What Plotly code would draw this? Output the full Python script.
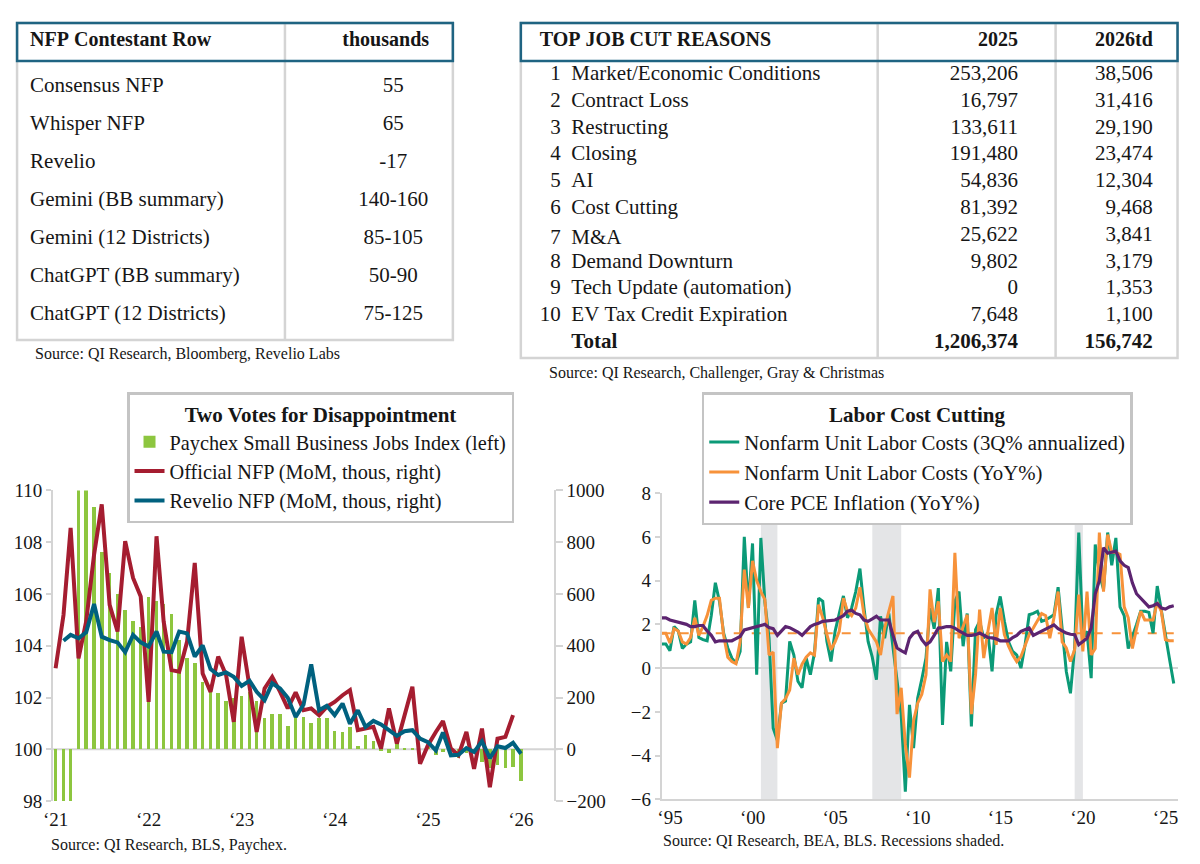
import plotly.graph_objects as go

# Page geometry: browser keeps its default 8px body margin -> figure is 1184x848.
OFF = 8
FW, FH = 1184, 848
# measured placement of paper coordinates on the photographed page (screen = A + S * page)
AX, SX = 9.0, 0.992
AY, SY = 9.9, 0.973
SERIF = "Liberation Serif"
INK = "#161616"
GRID = "#d4d4d4"
HDR = "#1f6482"
CLEAR = "rgba(0,0,0,0)"
NB = "\u00a0"


def X(px):
    return ((px - AX) / SX - OFF) / FW


def Y(py):
    return 1 - ((py - AY) / SY - OFF) / FH


# ---------------- Table 1: NFP contestant row ----------------
nfp_header = ["NFP Contestant Row", "thousands"]
nfp_labels = ["Consensus NFP", "Whisper NFP", "Revelio", "Gemini (BB summary)",
              "Gemini (12 Districts)", "ChatGPT (BB summary)", "ChatGPT (12 Districts)"]
nfp_values = ["55", "65", "-17", "140-160", "85-105", "50-90", "75-125"]

# ---------------- Table 2: top job cut reasons ----------------
cut_header = ["TOP JOB CUT REASONS", "2025", "2026td"]
cut_reasons = ["Market/Economic Conditions", "Contract Loss", "Restructing", "Closing", "AI",
               "Cost Cutting", "M&A", "Demand Downturn", "Tech Update (automation)",
               "EV Tax Credit Expiration"]
cut_2025 = [253206, 16797, 133611, 191480, 54836, 81392, 25622, 9802, 0, 7648]
cut_2026td = [38506, 31416, 29190, 23474, 12304, 9468, 3841, 3179, 1353, 1100]
total_2025 = 1206374
total_2026td = 156742

# ---------------- Chart 3: monthly, Jan-21 .. Jan-26 ----------------
paychex_index = [97.9, 97.9, 97.9, 110.2, 110.2, 109.35, 107.6, 106.8, 106.0, 105.35, 104.95, 104.7,
                 105.85, 105.7, 105.6, 105.2, 104.2, 103.5, 103.3, 102.6, 102.3, 102.15, 101.85, 101.95,
                 102.05, 102.2, 101.85, 101.2, 101.35, 101.35, 100.9, 101.25, 101.25, 101.0, 101.2, 101.2,
                 100.7, 100.65, 100.85, 100.1, 100.55, 100.3, 99.92, 99.85, 100.28, 99.96, 99.96, 100.0,
                 100.05, 99.75, 99.9, 99.95, 99.66, 99.83, 99.85, 99.5, 99.25, 99.38, 99.25, 99.3, 98.76]
official_nfp = [313, 519, 855, 351, 494, 752, 946, 558, 455, 804, 662, 590,
                183, 823, 494, 306, 300, 416, 720, 293, 222, 358, 287, 106,
                435, 235, 67, 235, 280, 222, 158, 220, 151, 158, 132, 164,
                183, 209, 229, 74, 80, 87, 3, 158, 22, 132, 242, -56,
                16, 67, 109, 3, -23, 67, -75, 80, -146, 41, 48, 132]
revelio_nfp = [419, 442, 429, 452, 561, 435, 422, 413, 375, 442, 413,
               397, 455, 377, 375, 455, 448, 358, 401, 310, 287, 297, 280,
               245, 265, 222, 190, 255, 235, 199, 125, 173, 328, 151, 168,
               132, 177, 99, 151, 87, 110, 96, 74, 52, 70, 74, 41,
               28, -4, 65, -23, -21, 5, -10, 31, -34, 12, 5, 25, -17]
month_labels = [f"{2021 + i // 12}-{i % 12 + 1:02d}-01" for i in range(len(paychex_index))]
year_ticks_l = ["2021-01-01", "2022-01-01", "2023-01-01", "2024-01-01", "2025-01-01", "2026-01-01"]
year_text_l = ["\u201821", "\u201822", "\u201823", "\u201824", "\u201825", "\u201826"]

# ---------------- Chart 4: quarterly, 1994Q4 .. 2025Q4 ----------------
ulc_3q_ann = [1.1,
              1.1, 0.8, 1.9, 1.7, 0.9, 1.1, 1.2, 3.1, 1.4, 1.3, 1.25, 2.4,
              3.9, 3.05, 1.6, 0.92, 0.46, 0.23, 0.76, 6.0, 2.75, 5.7, -0.3, 5.95,
              3.0, 1.37, -2.75, -3.3, -1.6, -1.5, 1.22, 0.6, -0.6, -0.9, 0.46, -0.3,
              0.7, 3.2, 3.05, 1.22, 0.3, 1.68, 2.5, 3.3, 2.3, 2.75, 3.5, 4.55,
              2.75, 1.22, 0.5, -0.53, 2.37, 1.37, 2.5, 1.0, -0.5, -2.1, -5.65, -1.68, -3.66,
              -1.37, -0.5, 0.46, 2.75, 1.8, 3.66, -2.6, 1.2, -0.15, 3.05, 3.5, 1.0,
              2.5, -2.67, 1.76, 2.14, 1.37, 1.6, -0.15, 2.44, 3.28, 2.14, 1.2, 0.76,
              0.6, 0.0, 1.07, 2.44, 2.5, 2.6, 2.14, 2.2, 2.3, 2.44, 3.7, 1.68,
              -0.15, -1.15, 0.92, 6.2, 1.37, 1.68, -0.46, 5.65, 4.3, 3.6, 6.2, 4.7,
              5.95, 2.8, 2.4, 0.9, 1.5, 2.0, 2.6, 2.6, 2.55, 1.6, 3.75, 2.6,
              1.5, 0.4, -0.7]
ulc_yoy = [1.6,
           1.6, 1.15, 1.8, 1.7, 1.2, 1.1, 1.4, 2.3, 1.5, 1.9, 2.4, 3.1,
           3.2, 3.2, 1.5, 0.5, 0.3, 0.2, 1.2, 4.5, 2.75, 4.9, 4.0, 3.5,
           3.13, 0.6, 0.73, -3.66, -1.6, -1.4, -1.0, 0.46, -0.3, 0.18, 0.5, 0.7,
           0.6, 2.9, 2.3, 1.53, 0.84, 1.2, 1.68, 3.2, 2.6, 2.4, 2.75, 3.7,
           2.44, 1.8, 1.5, 1.2, 0.6, 1.83, 2.6, 3.3, -2.1, -0.9, -3.5, -5.0, -2.4,
           -1.6, -1.2, -0.3, 3.6, 2.1, 3.05, 0.3, 0.6, 0.3, 5.27, 1.37, 1.9,
           2.44, -2.1, -0.3, 2.67, 0.46, 1.68, 2.75, 1.07, 2.75, 1.53, 1.0, 0.6,
           0.3, 0.53, 1.0, 1.53, 1.83, 2.2, 2.5, 2.4, 1.37, 2.3, 3.5, 1.2,
           0.92, 0.3, 0.84, 3.36, 0.76, 3.5, 0.6, 0.9, 6.2, 3.5, 6.1, 5.3,
           5.3, 5.2, 2.8, 2.3, 0.9, 1.8, 2.6, 2.2, 2.2, 2.2, 3.0, 2.6,
           1.3, 1.25, 1.25]
core_pce_yoy = [2.3,
                2.3, 2.2, 2.15, 2.1, 2.05, 2.0, 1.9, 1.9, 1.95, 1.95, 1.7, 1.5,
                1.2, 1.25, 1.25, 1.25, 1.25, 1.35, 1.45, 1.75, 1.8, 1.85, 1.9, 1.95,
                2.0, 1.85, 1.8, 1.5, 1.7, 1.9, 1.85, 1.75,
                1.65, 1.5, 1.7, 1.9, 2.0, 2.05, 2.14, 2.15, 2.17, 2.2, 2.3, 2.4,
                2.6, 2.65, 2.5, 2.44, 2.2, 2.14, 2.25, 2.37, 2.2, 2.2, 2.2, 1.5, 0.92,
                0.8, 0.7, 1.37, 1.6, 1.68, 1.3, 1.07, 1.2, 1.5, 1.83, 1.85, 1.9,
                1.9, 1.83, 1.7, 1.6, 1.5, 1.5, 1.53, 1.6, 1.5, 1.4, 1.38, 1.34,
                1.25, 1.25, 1.25, 1.4, 1.5, 1.68, 1.75, 1.83, 1.5, 1.6, 1.68, 1.8,
                1.9, 1.98, 1.8, 1.68, 1.6, 1.55, 1.53, 1.07, 1.2, 1.37,
                1.83, 3.4, 4.0, 5.5, 5.25, 5.3, 5.35, 4.9, 4.7, 4.6, 3.9, 3.4,
                3.2, 3.0, 2.8, 2.85, 2.95, 2.75, 2.7, 2.8, 2.85]
ulc_yoy_avg = 1.6
quarter_ends = ["03-31", "06-30", "09-30", "12-31"]
quarter_dates = [f"{1994 + (i + 3) // 4}-{quarter_ends[(i + 3) % 4]}" for i in range(len(ulc_3q_ann))]
recessions = [("2001-01-01", "2002-01-01"), ("2007-10-01", "2009-07-01"), ("2020-01-01", "2020-07-01")]
year_ticks_r = [f"{y}-07-01" for y in range(1995, 2026, 5)]
year_text_r = ["\u201895", "\u201800", "\u201805", "\u201810", "\u201815", "\u201820", "\u201825"]

BAR_GREEN = "#8dc63f"
NFP_RED = "#a51d30"
REV_TEAL = "#00617f"
ULC3_C = "#0b9a77"
ULCY_C = "#f7923a"
PCE_C = "#5c2470"
REC_C = "#e4e5e7"


def nb(s):
    return s.replace(" ", NB)


def tfont(size, bold=False):
    return dict(family=SERIF, size=size, color=INK, weight="bold" if bold else "normal")


fig = go.Figure()

# ---- Table 1 ----
T1_HEAD = 45.3
fig.add_trace(go.Table(
    domain=dict(x=[X(21), X(452)], y=[Y(339), Y(22.7)]),
    columnwidth=[313, 118],
    header=dict(values=[nb(nfp_header[0]), nfp_header[1] + NB * 3], align=["left", "center"],
                height=T1_HEAD, fill_color=CLEAR, line_color=CLEAR, font=tfont(20, True)),
    cells=dict(values=[nfp_labels, nfp_values], align=["left", "center"], height=38,
               fill_color=CLEAR, line_color=CLEAR, font=tfont(21)),
))

# ---- Table 2: header + rows 1-6 / row 7 / rows 8-10 / total ----
first_col = []
for i, reason in enumerate(cut_reasons):
    rank = str(i + 1)
    first_col.append(NB * (2 * (2 - len(rank))) + rank + NB * 2 + nb(reason))
v2025 = [f"{v:,}" for v in cut_2025]
v2026 = [f"{v:,}" for v in cut_2026td]
T2_X = [X(531), X(1177)]
T2_W = [346, 149, 135, 16]
T2_ALIGN = ["left", "right", "right", "left"]
ROW = 26.67
T2_TOP = 22.7
HEAD = 33.6
BODY = T2_TOP + HEAD


def row_top(k):
    return BODY + k * ROW


fig.add_trace(go.Table(
    domain=dict(x=T2_X, y=[Y(row_top(6) + 3), Y(T2_TOP)]),
    columnwidth=T2_W,
    header=dict(values=[nb(h) for h in cut_header] + [""], align=T2_ALIGN, height=HEAD,
                fill_color=CLEAR, line_color=CLEAR, font=tfont(20, True)),
    cells=dict(values=[first_col[:6], v2025[:6], v2026[:6], [""] * 6], align=T2_ALIGN,
               height=ROW, fill_color=CLEAR, line_color=CLEAR, font=tfont(21)),
))


def body_block(rows, top, bottom, col1, c2, c3, bold=False):
    fig.add_trace(go.Table(
        domain=dict(x=T2_X, y=[Y(bottom), Y(top)]),
        columnwidth=T2_W,
        header=dict(values=["", "", "", ""], height=1, fill_color=CLEAR, line_color=CLEAR),
        cells=dict(values=[col1, c2, c3, [""] * rows], align=T2_ALIGN, height=ROW,
                   fill_color=CLEAR, line_color=CLEAR, font=tfont(21, bold)),
    ))


body_block(1, row_top(6) - 1, row_top(7) + 18, first_col[6:7], v2025[6:7], v2026[6:7])
body_block(3, row_top(7) - 1, row_top(10) + 3, first_col[7:], v2025[7:], v2026[7:])
body_block(1, row_top(10) - 1, 357, [NB * 6 + "Total"], [f"{total_2025:,}"], [f"{total_2026td:,}"],
           bold=True)

# ---- Chart 3 ----
fig.add_trace(go.Bar(
    x=month_labels, y=[v - 100 for v in paychex_index], base=100,
    width=14.3 * 86400000, marker=dict(color=BAR_GREEN, line=dict(width=0)),
    name="Paychex Small Business Jobs Index (left)", xaxis="x", yaxis="y", legend="legend"))
fig.add_trace(go.Scatter(
    x=month_labels[:len(official_nfp)], y=official_nfp, mode="lines",
    line=dict(color=NFP_RED, width=4), name="Official NFP (MoM, thous, right)",
    xaxis="x", yaxis="y2", legend="legend"))
fig.add_trace(go.Scatter(
    x=month_labels[1:1 + len(revelio_nfp)], y=revelio_nfp, mode="lines",
    line=dict(color=REV_TEAL, width=4), name="Revelio NFP (MoM, thous, right)",
    xaxis="x", yaxis="y2", legend="legend"))

# ---- Chart 4 ----
fig.add_trace(go.Scatter(
    x=[quarter_dates[0], quarter_dates[-1]], y=[ulc_yoy_avg, ulc_yoy_avg], mode="lines",
    line=dict(color=ULCY_C, width=2, dash="dash"), showlegend=False,
    xaxis="x2", yaxis="y3"))
fig.add_trace(go.Scatter(
    x=quarter_dates, y=ulc_3q_ann, mode="lines", line=dict(color=ULC3_C, width=3),
    name="Nonfarm Unit Labor Costs (3Q% annualized)", xaxis="x2", yaxis="y3", legend="legend2"))
fig.add_trace(go.Scatter(
    x=quarter_dates, y=ulc_yoy, mode="lines", line=dict(color=ULCY_C, width=3),
    name="Nonfarm Unit Labor Costs (YoY%)", xaxis="x2", yaxis="y3", legend="legend2"))
fig.add_trace(go.Scatter(
    x=quarter_dates, y=core_pce_yoy, mode="lines", line=dict(color=PCE_C, width=3.2),
    name="Core PCE Inflation (YoY%)", xaxis="x2", yaxis="y3", legend="legend2"))

shapes = []
# table borders
shapes.append(dict(type="rect", xref="paper", yref="paper", x0=X(16), x1=X(452), y0=Y(339), y1=Y(22.7),
                   line=dict(color=GRID, width=2.5)))
shapes.append(dict(type="line", xref="paper", yref="paper", x0=X(284), x1=X(284), y0=Y(339), y1=Y(22.7),
                   line=dict(color=GRID, width=2.5)))
shapes.append(dict(type="rect", xref="paper", yref="paper", x0=X(16), x1=X(452), y0=Y(60.7), y1=Y(22.7),
                   line=dict(color=HDR, width=2.5)))
shapes.append(dict(type="rect", xref="paper", yref="paper", x0=X(520), x1=X(1177), y0=Y(357), y1=Y(22.7),
                   line=dict(color=GRID, width=2.5)))
for sx in (877, 1055):
    shapes.append(dict(type="line", xref="paper", yref="paper", x0=X(sx), x1=X(sx), y0=Y(357), y1=Y(22.7),
                       line=dict(color=GRID, width=2.5)))
shapes.append(dict(type="rect", xref="paper", yref="paper", x0=X(520), x1=X(1177), y0=Y(60.7), y1=Y(22.7),
                   line=dict(color=HDR, width=2.5)))
# chart 3 base line at 100
shapes.append(dict(type="line", xref="x domain", yref="y", x0=0, x1=1.008, y0=100, y1=100,
                   line=dict(color=GRID, width=2), layer="below"))
# recessions
for r0, r1 in recessions:
    shapes.append(dict(type="rect", xref="x2", yref="y3 domain", x0=r0, x1=r1, y0=0, y1=1,
                       fillcolor=REC_C, line=dict(width=0), layer="below"))

src_font = dict(family=SERIF, size=16, color=INK)
annotations = [
    dict(text="Source: QI Research, Bloomberg, Revelio Labs", x=X(32), y=Y(353)),
    dict(text="Source: QI Research, Challenger, Gray &amp; Christmas", x=X(546), y=Y(372)),
    dict(text="Source: QI Research, BLS, Paychex.", x=X(48), y=Y(843)),
    dict(text="Source: QI Research, BEA, BLS. Recessions shaded.", x=X(660), y=Y(838)),
]
for a in annotations:
    a.update(xref="paper", yref="paper", xanchor="left", yanchor="middle", showarrow=False, font=src_font)

tickfont = dict(family=SERIF, size=19, color=INK)
axis_common = dict(showgrid=False, zeroline=False, tickfont=tickfont)

legend_common = dict(
    xanchor="left", yanchor="top", bgcolor="white", bordercolor="#c4c4c4", borderwidth=2.5,
    itemwidth=30, tracegroupgap=0,
)

fig.update_layout(
    width=FW, height=FH, margin=dict(l=0, r=0, t=0, b=0),
    paper_bgcolor="white", plot_bgcolor="white",
    font=dict(family=SERIF, color=INK),
    bargap=0,
    xaxis=dict(domain=[X(52), X(553)], anchor="y", type="date",
               range=["2020-12-22", "2026-05-10"], tickmode="array",
               tickvals=year_ticks_l, ticktext=year_text_l, ticks="", showline=False,
               ticklabelstandoff=5, **axis_common),
    yaxis=dict(domain=[Y(799), Y(489)], anchor="x", range=[98, 110], dtick=2, tick0=98,
               showline=True, linecolor=GRID, linewidth=2, ticks="outside", ticklen=5,
               tickcolor=GRID, tickwidth=2, **axis_common),
    yaxis2=dict(overlaying="y", side="right", anchor="x", range=[-200, 1000], dtick=200, tick0=-200,
                showline=True, linecolor=GRID, linewidth=2, ticks="outside", ticklen=7,
                tickcolor=GRID, tickwidth=2, **axis_common),
    xaxis2=dict(domain=[X(661), X(1177)], anchor="y3", type="date",
                range=["1995-01-01", "2026-03-25"], tickmode="array",
                tickvals=year_ticks_r, ticktext=year_text_r, ticks="", showline=True,
                linecolor=GRID, linewidth=2, ticklabelstandoff=0, **axis_common),
    yaxis3=dict(domain=[Y(797.3), Y(491.7)], anchor="x2", range=[-6, 8], dtick=2, tick0=-6,
                showline=True, linecolor=GRID, linewidth=2, ticks="outside", ticklen=5,
                tickcolor=GRID, tickwidth=2, showgrid=False, zeroline=True, zerolinecolor=GRID,
                zerolinewidth=2, tickfont=tickfont),
    legend=dict(x=X(126), y=Y(391),
                title=dict(text="<b>Two Votes for Disappointment</b>", side="top center",
                           font=dict(family=SERIF, size=21, color=INK)),
                font=dict(family=SERIF, size=20.3, color=INK),
                **legend_common),
    legend2=dict(x=X(701), y=Y(391),
                 title=dict(text="<b>Labor Cost Cutting</b>", side="top center",
                            font=dict(family=SERIF, size=21, color=INK)),
                 font=dict(family=SERIF, size=20.8, color=INK),
                 **legend_common),
    shapes=shapes,
    annotations=annotations,
    showlegend=True,
)

fig.write_html("out.html", config={"displayModeBar": False})
